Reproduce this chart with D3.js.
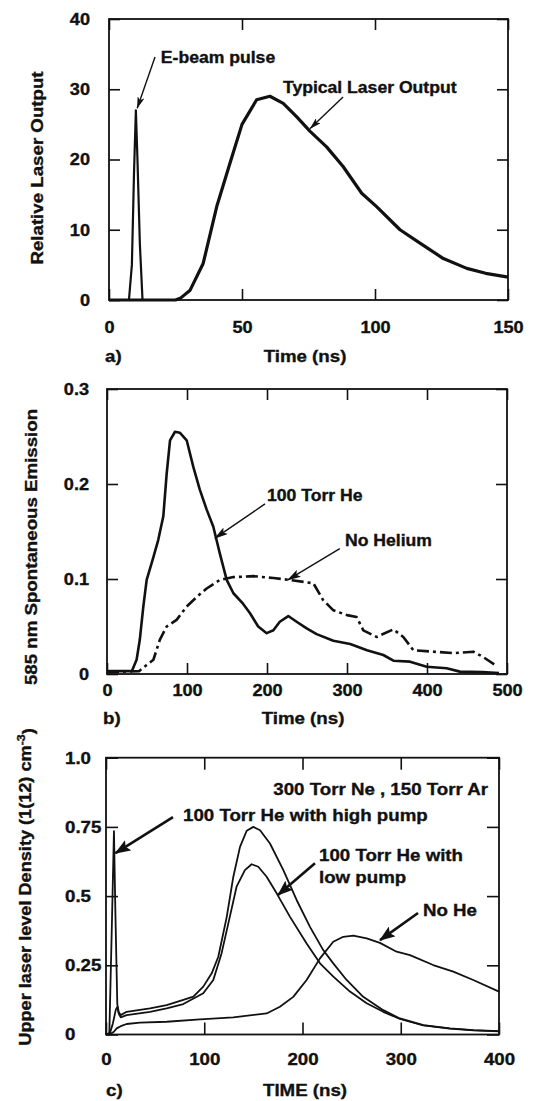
<!DOCTYPE html>
<html>
<head>
<meta charset="utf-8">
<script src="https://cdn.jsdelivr.net/npm/d3@7/dist/d3.min.js"></script>
<style>
  html, body { margin: 0; padding: 0; background: #fff; }
  svg { display: block; }
  text { font-family: "Liberation Sans", Arial, Helvetica, sans-serif; font-weight: bold; fill: #111;
         stroke: #111; stroke-width: 0.35px; }
</style>
</head>
<body>
<svg id="fig" width="533" height="1101"></svg>
<script>
// ---------- Panel a: e-beam pulse and laser output (time ns, relative output) ----------
const aXTicks = [0, 50, 100, 150];
const aXTickLabels = ["0", "50", "100", "150"];
const aYTicks = [0, 10, 20, 30, 40];
const aYTickLabels = ["0", "10", "20", "30", "40"];
const ebeamPulse = [[7.5,0],[8.6,5],[9.4,18],[10.1,27],[10.7,20],[11.6,8],[12.6,0]];
const laserOutput = [[0,0],[25,0],[27,0.3],[30.5,1.4],[35.4,5.2],[40.5,13.3],[45.5,19.5],[50,25],
  [55.5,28.5],[60.5,29],[65.5,28],[70.5,26.1],[75.6,24],[81.8,21.8],[88,19],[95,15.2],[100.6,13.3],
  [109.4,10],[116.9,8.1],[125.7,5.9],[134.5,4.5],[141.6,3.8],[149.5,3.3],[150,3.3]];

// ---------- Panel b: 585 nm spontaneous emission ----------
const bXTicks = [0, 100, 200, 300, 400, 500];
const bXTickLabels = ["0", "100", "200", "300", "400", "500"];
const bYTicks = [0, 0.1, 0.2, 0.3];
const bYTickLabels = ["0", "0.1", "0.2", "0.3"];
const emission100He = [[0,0.003],[31,0.003],[37,0.015],[41,0.036],[45.4,0.071],[49.6,0.099],[58,0.123],
  [64,0.141],[70.4,0.166],[74.6,0.211],[78.8,0.246],[85,0.255],[91,0.254],[99.6,0.246],[107.9,0.218],
  [116,0.194],[124.6,0.173],[132.9,0.155],[141,0.127],[149.6,0.099],[158,0.085],[170,0.074],[178.8,0.064],
  [189,0.05],[199.6,0.043],[208,0.046],[216,0.055],[226.6,0.061],[237,0.055],[249.6,0.048],[262,0.042],
  [282.9,0.035],[304,0.0316],[325,0.025],[345.4,0.02],[358,0.014],[378.8,0.013],[399.6,0.0077],
  [424.6,0.006],[441,0.0025],[468.9,0.002],[490,0.001]];
const emissionNoHe = [[0,0.002],[40,0.003],[49.6,0.0095],[58,0.015],[66,0.036],[74.6,0.05],[87,0.057],
  [99.6,0.071],[112,0.081],[124.6,0.09],[141,0.099],[158,0.102],[183,0.103],[208,0.101],[229,0.099],
  [258,0.0955],[270,0.078],[283,0.067],[300,0.062],[312,0.06],[320.4,0.046],[337,0.039],[358,0.047],
  [370.4,0.039],[383,0.025],[408,0.0235],[433,0.022],[458,0.0235],[470,0.018],[485,0.0095]];

// ---------- Panel c: upper laser level density ----------
const cXTicks = [0, 100, 200, 300, 400];
const cXTickLabels = ["0", "100", "200", "300", "400"];
const cYTicks = [0, 0.25, 0.5, 0.75, 1.0];
const cYTickLabels = ["0", "0.25", "0.5", "0.75", "1.0"];
const densityHighPump = [[0,0],[3.4,0.005],[6,0.4],[8.1,0.735],[9.5,0.45],[11.5,0.11],[13,0.08],[15,0.07],
  [21,0.082],[44.8,0.0945],[61.7,0.106],[78.7,0.125],[88.9,0.137],[99,0.173],[107.6,0.221],[114.3,0.281],
  [122.9,0.425],[129.6,0.57],[136.4,0.678],[143.2,0.736],[150,0.75],[156.8,0.738],[166.9,0.69],
  [180.5,0.594],[194,0.486],[207.6,0.389],[221.1,0.305],[231.3,0.257],[244.9,0.197],[261.8,0.136],
  [282.2,0.088],[299.2,0.058],[323,0.034],[350,0.022],[374,0.016],[400,0.012]];
const densityLowPump = [[0,0],[4,0.005],[7,0.04],[10,0.09],[11.5,0.1],[13,0.075],[15,0.062],[21,0.07],
  [44.8,0.082],[61.7,0.094],[78.7,0.11],[99,0.149],[109.2,0.197],[117.6,0.293],[126,0.425],[132.9,0.534],
  [141.4,0.594],[148.2,0.615],[155,0.606],[163.5,0.57],[173.7,0.51],[187.3,0.425],[204.2,0.329],
  [217.8,0.257],[231.4,0.209],[248.3,0.155],[265.3,0.113],[282.2,0.082],[299.2,0.056],[323,0.033],
  [350,0.021],[374,0.015],[400,0.011]];
const densityNoHe = [[0,0],[4,0.001],[8,0.01],[10.9,0.022],[15,0.03],[21,0.038],[34.6,0.043],[61.7,0.046],
  [95.6,0.055],[129.5,0.062],[163.5,0.076],[177,0.1],[190.6,0.136],[204.2,0.197],[217.8,0.275],
  [231.3,0.335],[241.5,0.353],[251.7,0.357],[265.3,0.347],[278.8,0.331],[295.8,0.299],[309.4,0.287],
  [333,0.251],[353.5,0.227],[373.8,0.197],[400,0.155]];

const svg = d3.select("#fig");
const SX = 1.1; // horizontal stretch applied to all lettering

// arrowhead markers
const defs = svg.append("defs");
defs.append("marker").attr("id", "headSmall").attr("markerUnits", "userSpaceOnUse")
  .attr("viewBox", "0 0 12 7").attr("refX", 11.5).attr("refY", 3.5)
  .attr("markerWidth", 12).attr("markerHeight", 7).attr("orient", "auto")
  .append("path").attr("d", "M0,0 L12,3.5 L0,7 L3,3.5 z").attr("fill", "#111");
defs.append("marker").attr("id", "headNarrow").attr("markerUnits", "userSpaceOnUse")
  .attr("viewBox", "0 0 14 8").attr("refX", 13).attr("refY", 4)
  .attr("markerWidth", 14).attr("markerHeight", 8).attr("orient", "auto")
  .append("path").attr("d", "M0,0 L14,4 L0,8 L3,4 z").attr("fill", "#111");
defs.append("marker").attr("id", "headWide").attr("markerUnits", "userSpaceOnUse")
  .attr("viewBox", "0 0 16 12").attr("refX", 15).attr("refY", 6)
  .attr("markerWidth", 16).attr("markerHeight", 12).attr("orient", "auto")
  .append("path").attr("d", "M0,0 L16,6 L0,12 L3,6 z").attr("fill", "#111");

function label(g, px, py, str, anchor, size, rotate) {
  return g.append("text")
    .attr("transform", `translate(${px},${py})${rotate ? " rotate(-90)" : ""} scale(${SX},1)`)
    .attr("text-anchor", anchor || "start")
    .attr("font-size", size || 16)
    .text(str);
}

function panel(o) {
  const x = d3.scaleLinear().domain(o.xDomain).range([o.left, o.right]);
  const y = d3.scaleLinear().domain(o.yDomain).range([o.bottom, o.top]);
  const g = svg.append("g");

  const styleAxis = s => {
    s.select(".domain").remove();
    s.attr("font-size", o.tickFont).attr("font-family", null);
    s.selectAll(".tick line").attr("stroke", "#111").attr("stroke-width", 1.6);
    s.selectAll(".tick text").attr("transform", `scale(${SX},1)`);
  };

  g.append("g").attr("transform", `translate(0,${o.bottom})`)
    .call(d3.axisBottom(x).tickValues(o.xTicks).tickFormat((d, i) => o.xTickLabels[i])
      .tickSizeInner(-o.tick).tickSizeOuter(0).tickPadding(o.xPad))
    .call(styleAxis);
  g.append("g").attr("transform", `translate(0,${o.top})`)
    .call(d3.axisTop(x).tickValues(o.xTicks).tickFormat("").tickSizeInner(-o.tick).tickSizeOuter(0))
    .call(styleAxis);
  const yl = g.append("g").attr("transform", `translate(${o.left},0)`)
    .call(d3.axisLeft(y).tickValues(o.yTicks).tickFormat((d, i) => o.yTickLabels[i])
      .tickSizeInner(-o.tick).tickSizeOuter(0).tickPadding(o.yPad))
    .call(styleAxis);
  if (o.yLabelsStart != null) {
    yl.selectAll(".tick text").attr("text-anchor", "start").attr("x", o.yLabelsStart / SX);
  } else {
    yl.selectAll(".tick text").attr("x", -o.yPad / SX);
  }
  g.append("g").attr("transform", `translate(${o.right},0)`)
    .call(d3.axisRight(y).tickValues(o.yTicks).tickFormat("").tickSizeInner(-o.tick).tickSizeOuter(0))
    .call(styleAxis);

  // frame
  g.append("rect").attr("x", o.left).attr("y", o.top)
    .attr("width", o.right - o.left).attr("height", o.bottom - o.top)
    .attr("fill", "none").attr("stroke", "#111").attr("stroke-width", 1.8);

  // series
  const line = d3.line().x(d => x(d[0])).y(d => y(d[1]));
  o.series.forEach(s => {
    g.append("path").datum(s.data).attr("d", line)
      .attr("fill", "none").attr("stroke", "#111").attr("stroke-width", s.width)
      .attr("stroke-linejoin", "round").attr("stroke-linecap", "butt")
      .attr("stroke-dasharray", s.dash || null);
  });

  // annotations with arrows
  o.notes.forEach(n => {
    const lead = n.lead || 0;
    n.lines.forEach((t, i) => label(g, x(n.at[0]), y(n.at[1]) + i * lead, t, n.anchor, o.noteFont));
    if (n.from) {
      g.append("line").attr("x1", x(n.from[0])).attr("y1", y(n.from[1]))
        .attr("x2", x(n.to[0])).attr("y2", y(n.to[1]))
        .attr("stroke", "#111").attr("stroke-width", o.arrowWidth)
        .attr("marker-end", `url(#${o.head})`);
    }
  });

  // titles
  label(g, o.xTitle[1], o.xTitle[2], o.xTitle[0], "middle", 17);
  label(g, o.tag[1], o.tag[2], o.tag[0], "start", 17);
  const yt = label(g, o.yTitle[1], o.yTitle[2], o.yTitle[0], "middle", o.yTitleFont, true);
  if (o.yTitleSup) {
    yt.append("tspan").attr("dy", "-0.5em").attr("font-size", o.yTitleFont * 0.68).text(o.yTitleSup);
    yt.append("tspan").attr("dy", "0.5em").text(")");
  }
}

panel({
  xDomain: [0, 150], yDomain: [0, 40], left: 109, right: 508, top: 19, bottom: 300,
  xTicks: aXTicks, xTickLabels: aXTickLabels, yTicks: aYTicks, yTickLabels: aYTickLabels,
  tick: 11, xPad: 21, yPad: 19, tickFont: 16.5, noteFont: 16, arrowWidth: 1.4, head: "headSmall",
  series: [
    { data: ebeamPulse, width: 2.2 },
    { data: laserOutput, width: 3.2 }
  ],
  notes: [
    { lines: ["E-beam pulse"], at: [19.5, 33.7], from: [17.3, 34.6], to: [10.6, 27.3] },
    { lines: ["Typical Laser Output"], at: [65.4, 29.5], from: [88, 28.9], to: [75.6, 24.4] }
  ],
  xTitle: ["Time (ns)", 305, 362], tag: ["a)", 105, 362],
  yTitle: ["Relative Laser Output", 43, 168], yTitleFont: 17
});

panel({
  xDomain: [0, 500], yDomain: [0, 0.3], left: 107, right: 507, top: 389, bottom: 674,
  xTicks: bXTicks, xTickLabels: bXTickLabels, yTicks: bYTicks, yTickLabels: bYTickLabels,
  tick: 11, xPad: 10, yPad: 18, tickFont: 16.5, noteFont: 16, arrowWidth: 1.4, head: "headNarrow",
  series: [
    { data: emission100He, width: 2.6 },
    { data: emissionNoHe, width: 2.6, dash: "12,4,3,4" }
  ],
  notes: [
    { lines: ["100 Torr He"], at: [200, 0.182], from: [197.5, 0.179], to: [135, 0.143] },
    { lines: ["No Helium"], at: [297.5, 0.135], from: [291, 0.132], to: [226, 0.099] }
  ],
  xTitle: ["Time (ns)", 303, 724], tag: ["b)", 103, 724],
  yTitle: ["585 nm Spontaneous Emission", 37, 547], yTitleFont: 17
});

panel({
  xDomain: [0, 400], yDomain: [0, 1.0], left: 106, right: 499, top: 757.7, bottom: 1034.5,
  xTicks: cXTicks, xTickLabels: cXTickLabels, yTicks: cYTicks, yTickLabels: cYTickLabels,
  tick: 12, xPad: 18, yPad: 10, yLabelsStart: -41, tickFont: 17, noteFont: 17, arrowWidth: 2.6, head: "headWide",
  series: [
    { data: densityHighPump, width: 1.8 },
    { data: densityLowPump, width: 1.8 },
    { data: densityNoHe, width: 1.8 }
  ],
  notes: [
    { lines: ["300 Torr Ne , 150 Torr Ar"], at: [388.8, 0.865], anchor: "end" },
    { lines: ["100 Torr He with high pump"], at: [78.4, 0.771], from: [68.2, 0.785], to: [9.6, 0.655] },
    { lines: ["100 Torr He with", "low pump"], at: [216.8, 0.626], lead: 22, from: [212.7, 0.619], to: [175, 0.504] },
    { lines: ["No He"], at: [322.6, 0.428], from: [317.6, 0.439], to: [278.9, 0.341] }
  ],
  xTitle: ["TIME (ns)", 305, 1096], tag: ["c)", 106, 1096],
  yTitle: ["Upper laser level Density (1(12) cm", 31, 887], yTitleFont: 16.5, yTitleSup: "-3"
});
</script>
</body>
</html>
